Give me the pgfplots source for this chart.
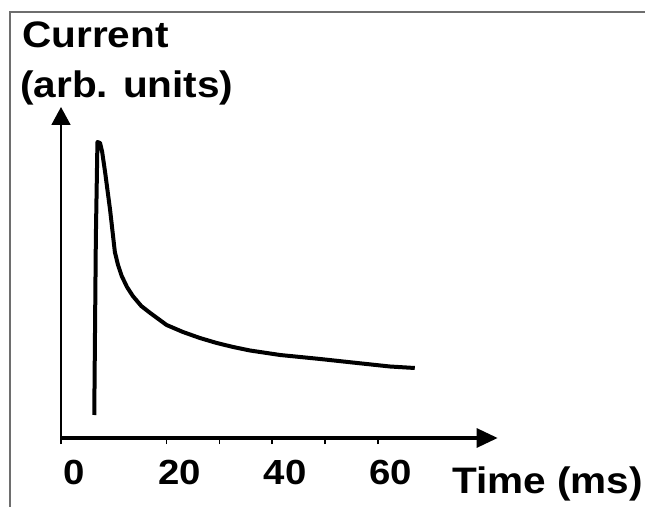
\documentclass[border=0pt]{standalone}
\usepackage{fontspec}
\newfontfamily\lab{Liberation Sans}[FakeStretch=1.1]
\usepackage{pgfplots}
\pgfplotsset{compat=1.18}
\usetikzlibrary{arrows.meta}
\definecolor{framec}{RGB}{110,110,110}
\begin{document}
\begin{tikzpicture}
\begin{axis}[
  anchor=origin, at={(0,0)},
  x=5.28bp, y=1bp,
  xmin=0, xmax=82.7, ymin=0, ymax=331,
  enlargelimits=false, clip=false,
  axis lines=left,
  x axis line style={line width=3bp, -{Triangle[length=21bp,width=19bp]}},
  y axis line style={line width=1.8bp, -{Triangle[length=18bp,width=19bp]}},
  xtick={0,20,30,40,50,60}, xticklabels={0,20,,40,,60},
  ytick=\empty,
  tick align=outside, major tick length=6bp,
  tick style={black, line width=1.5bp},
  /pgf/number format/assume math mode=true,
  xticklabel style={font=\lab\bfseries\fontsize{35}{40}\selectfont, xshift=13bp, yshift=-13bp},
]
\addplot[black, line width=4bp, line join=round] coordinates {
  (6.3,23) (6.6,200) (6.9,296) (7.4,295) (7.8,286) (8.4,264) (9.3,228)
  (10.2,186) (10.8,173) (11.5,162) (12.5,151) (13.6,142) (15.2,132)
  (16.9,125) (20.0,113) (23.1,106) (26.3,100) (29.5,95) (32.6,91)
  (35.8,87.5) (41.5,83) (49.1,79) (56.1,75) (62.3,71.5) (67.0,70)
};
\end{axis}
\draw[framec, line width=1.5bp] (-51bp,-69bp) -- (-51bp,426bp) -- (584bp,426bp);
\node[anchor=base west, inner sep=0pt, font=\lab\bfseries\fontsize{37}{42}\selectfont] at (-39bp,390bp) {Current};
\node[anchor=base west, inner sep=0pt, font=\lab\bfseries\fontsize{37}{42}\selectfont] at (-41bp,340bp) {(arb. units)};
\node[anchor=base west, inner sep=0pt, font=\lab\bfseries\fontsize{37}{42}\selectfont] at (391bp,-55bp) {Time (ms)};
\pgfresetboundingbox
\path (-61bp,-69bp) rectangle (584bp,438bp);
\end{tikzpicture}
\end{document}
